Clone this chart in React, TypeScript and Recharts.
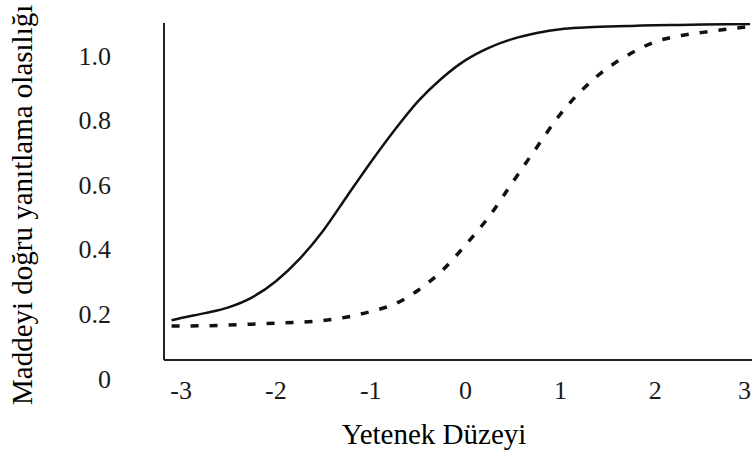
import React from 'react';
import { LineChart, Line, XAxis, YAxis } from 'recharts';

// ability levels (theta) read along the x axis
const thetas = [
  -3.1, -3, -2.75, -2.5, -2.25, -2, -1.75, -1.5, -1.25, -1, -0.75, -0.5, -0.25,
  0, 0.25, 0.5, 0.75, 1, 1.25, 1.5, 1.75, 2, 2.25, 2.5, 2.75, 3,
];

// solid curve (easier item)
const itemA = [
  0.18, 0.187, 0.202, 0.22, 0.251, 0.301, 0.37, 0.458, 0.564, 0.669, 0.768, 0.858, 0.929,
  0.985, 1.024, 1.051, 1.069, 1.081, 1.086, 1.089, 1.091, 1.093, 1.094, 1.095, 1.096, 1.097,
];

// dashed curve (harder item)
const itemB = [
  0.162, 0.162, 0.163, 0.165, 0.168, 0.171, 0.174, 0.179, 0.19, 0.207, 0.23, 0.273, 0.333,
  0.413, 0.502, 0.609, 0.715, 0.818, 0.899, 0.961, 1.007, 1.042, 1.06, 1.071, 1.081, 1.089,
];

const xTicks = [-3, -2, -1, 0, 1, 2, 3];
const yTicks = [0, 0.2, 0.4, 0.6, 0.8, 1.0];

const xTitle = 'Yetenek Düzeyi';
const yTitle = 'Maddeyi doğru yanıtlama olasılığı';

const data = thetas.map((t, i) => ({ theta: t, a: itemA[i], b: itemB[i] }));

const FONT = '"Liberation Serif", "Times New Roman", serif';
const INK = '#1a1a1a';
const W = 752;
const H = 456;

// x tick label; the last one is kept inside the picture's right edge
const XTick = (props: any) => {
  const { x, y, payload } = props;
  const label = String(payload.value);
  const nearEdge = x + 8 > W;
  return (
    <text
      x={nearEdge ? W - 1 : x}
      y={y}
      dy={19}
      textAnchor={nearEdge ? 'end' : 'middle'}
      fontSize={26}
      fontFamily={FONT}
      fill={INK}
    >
      {label}
    </text>
  );
};

export default function App() {
  return (
    <div style={{ position: 'absolute', left: 0, top: 0, width: W, height: H, background: '#fff' }}>
      <LineChart
        width={W}
        height={H}
        data={data}
        margin={{ top: 23, right: 0, bottom: 36, left: 64 }}
      >
        <XAxis
          dataKey="theta"
          type="number"
          domain={[-3.18, 3.02]}
          allowDataOverflow
          ticks={xTicks}
          interval={0}
          height={60}
          tickLine={false}
          tickSize={0}
          tickMargin={20}
          axisLine={{ stroke: '#222', strokeWidth: 2 }}
          tick={<XTick />}
          label={{
            content: () => (
              <text x={434} y={444} textAnchor="middle" fontSize={29} fontFamily={FONT} fill="#000">
                {xTitle}
              </text>
            ),
          }}
        />
        <YAxis
          type="number"
          domain={[0.057, 1.1]}
          allowDataOverflow
          ticks={yTicks}
          interval={0}
          width={100}
          tickLine={false}
          tickSize={0}
          tickMargin={53}
          axisLine={{ stroke: '#222', strokeWidth: 2 }}
          tick={{ fill: INK, fontSize: 26, fontFamily: FONT }}
          tickFormatter={(v: number) => (v === 0 ? '0' : v.toFixed(1))}
          label={{
            content: () => (
              <text
                x={32}
                y={405}
                transform="rotate(-90 32 405)"
                textAnchor="start"
                fontSize={29}
                fontFamily={FONT}
                fill="#000"
              >
                {yTitle}
              </text>
            ),
          }}
        />
        <Line
          type="monotone"
          dataKey="a"
          stroke="#111"
          strokeWidth={2.5}
          dot={false}
          isAnimationActive={false}
        />
        <Line
          type="monotone"
          dataKey="b"
          stroke="#111"
          strokeWidth={3.5}
          strokeDasharray="8 11"
          dot={false}
          isAnimationActive={false}
        />
      </LineChart>
    </div>
  );
}
